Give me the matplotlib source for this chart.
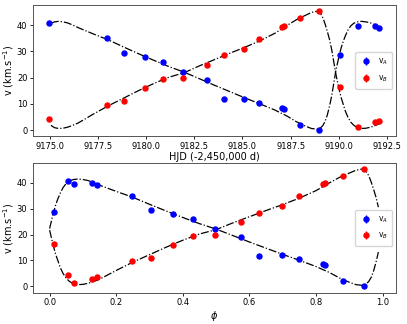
import numpy as np
import matplotlib
matplotlib.use("Agg")
import matplotlib.pyplot as plt

t_obs = [9174.98, 9177.98, 9178.88, 9179.93, 9180.88, 9181.93, 9183.16, 9184.03, 9185.10,
         9185.88, 9187.07, 9187.14, 9187.97, 9188.95, 9190.06, 9190.98, 9191.88, 9192.10]
ph_obs = [0.056, 0.247, 0.304, 0.369, 0.429, 0.498, 0.575, 0.630, 0.697,
          0.748, 0.821, 0.826, 0.880, 0.945, 0.014, 0.072, 0.128, 0.143]
vA_obs = [40.8, 35.1, 29.6, 27.8, 26.0, 22.1, 19.1, 11.8, 11.9,
          10.5, 8.4, 8.1, 2.0, 0.2, 28.7, 39.6, 39.9, 39.1]
vB_obs = [4.2, 9.6, 11.0, 15.9, 19.5, 19.7, 24.9, 28.5, 31.0,
          34.9, 39.5, 39.9, 42.6, 45.5, 16.5, 1.1, 2.9, 3.5]
err = [0.3] * len(t_obs)

# orbit model curve, read at phase nodes
ph_mod = [0.000, 0.006, 0.012, 0.018, 0.025, 0.032, 0.040, 0.050, 0.060, 0.072, 0.085,
          0.100, 0.115, 0.130, 0.150, 0.175, 0.200, 0.250, 0.300, 0.350, 0.400, 0.450,
          0.500, 0.550, 0.600, 0.650, 0.700, 0.750, 0.800, 0.840, 0.870, 0.900, 0.920,
          0.940, 0.950, 0.958, 0.965, 0.972, 0.980, 0.987]
vA_mod = [22.3, 25.6, 28.6, 31.4, 33.9, 36.0, 38.1, 39.8, 40.8, 41.3, 41.5,
          41.3, 40.9, 40.2, 39.1, 37.9, 36.7, 34.4, 31.7, 29.1, 26.6, 24.2,
          22.1, 19.6, 17.1, 14.7, 12.3, 10.0, 7.6, 5.3, 3.2, 1.5, 0.6,
          0.3, 0.8, 1.8, 3.3, 5.6, 9.3, 13.2]
vB_mod = [21.7, 18.4, 15.2, 12.4, 9.8, 7.2, 5.0, 3.0, 1.8, 0.9, 0.6,
          0.7, 1.1, 1.7, 2.7, 4.4, 6.1, 9.3, 12.2, 15.1, 17.8, 20.2,
          21.9, 24.5, 26.9, 29.3, 31.6, 34.1, 37.0, 40.0, 42.1, 43.8, 44.9,
          45.4, 44.5, 42.8, 40.5, 37.8, 34.4, 30.6]

period = 15.72   # days
t_ref, ph_ref = 9175.0, 0.056   # HJD where phase = ph_ref

# unfold the model onto the time axis (phase 0.06 -> 1.15)
ph_top = [p for p in ph_mod if p >= 0.06] + [1 + p for p in ph_mod if p <= 0.15]
vA_top = [v for p, v in zip(ph_mod, vA_mod) if p >= 0.06] + [v for p, v in zip(ph_mod, vA_mod) if p <= 0.15]
vB_top = [v for p, v in zip(ph_mod, vB_mod) if p >= 0.06] + [v for p, v in zip(ph_mod, vB_mod) if p <= 0.15]
t_top = [t_ref + (p - ph_ref) * period for p in ph_top]

fig = plt.figure(figsize=(4.07, 3.24), dpi=100)
ax1 = fig.add_axes([0.081, 0.580, 0.892, 0.405])
ax2 = fig.add_axes([0.081, 0.096, 0.892, 0.401])

tick_fs = 6
lab_fs = 7

for ax, x_obs, x_mod, a_mod, b_mod in ((ax1, t_obs, t_top, vA_top, vB_top),
                                       (ax2, ph_obs, ph_mod, vA_mod, vB_mod)):
    ax.plot(x_mod, a_mod, '-.', color='k', lw=0.9)
    ax.plot(x_mod, b_mod, '-.', color='k', lw=0.9)
    ax.errorbar(x_obs, vA_obs, yerr=err, fmt='o', color='b', ms=3.6, elinewidth=1, label='v$_A$')
    ax.errorbar(x_obs, vB_obs, yerr=err, fmt='o', color='r', ms=3.6, elinewidth=1, label='v$_B$')
    ax.set_ylabel('v (km.s$^{-1}$)', fontsize=lab_fs)
    ax.yaxis.set_label_coords(-0.048, 0.5)
    ax.tick_params(labelsize=tick_fs, length=2.5, width=0.6, pad=1.5)
    for s in ax.spines.values():
        s.set_linewidth(0.7)
        s.set_color('#555555')
    ax.legend(loc='center right', fontsize=5.5, handlelength=1.5, borderpad=0.6, labelspacing=0.8)
    ax.set_yticks([0, 10, 20, 30, 40])

ax1.set_xlim(9174.13, 9192.97)
ax1.set_ylim(-2.3, 47.8)
ax1.set_xticks([9175.0, 9177.5, 9180.0, 9182.5, 9185.0, 9187.5, 9190.0, 9192.5])
ax1.set_xticklabels(['9175.0', '9177.5', '9180.0', '9182.5', '9185.0', '9187.5', '9190.0', '9192.5'])
ax1.set_xlabel('HJD (-2,450,000 d)', fontsize=lab_fs, labelpad=1)

ax2.set_xlim(-0.05, 1.04)
ax2.set_ylim(-2.6, 47.7)
ax2.set_xlabel(r'$\phi$', fontsize=lab_fs, labelpad=1)

fig.savefig('out.png', dpi=100)
